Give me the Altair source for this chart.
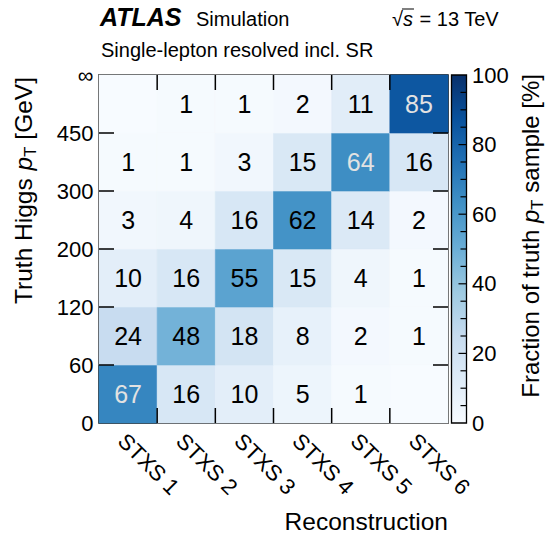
import json
import altair as alt
import pandas as pd

FONT = "Liberation Sans"

# ---------------- data ----------------
reco_labels = ["STXS 1", "STXS 2", "STXS 3", "STXS 4", "STXS 5", "STXS 6"]
truth_edges = ["0", "60", "120", "200", "300", "450", "∞"]
# percentages, one list per truth pT bin (bottom to top), columns STXS 1..6
row_0_60 = [67, 16, 10, 5, 1, None]
row_60_120 = [24, 48, 18, 8, 2, 1]
row_120_200 = [10, 16, 55, 15, 4, 1]
row_200_300 = [3, 4, 16, 62, 14, 2]
row_300_450 = [1, 1, 3, 15, 64, 16]
row_450_inf = [None, 1, 1, 2, 11, 85]
rows = [row_0_60, row_60_120, row_120_200, row_200_300, row_300_450, row_450_inf]

cbar_major = [20, 40, 60, 80]
cbar_minor = [5, 10, 15, 25, 30, 35, 45, 50, 55, 65, 70, 75, 85, 90, 95]
cbar_labels = [0, 20, 40, 60, 80, 100]
inner_edges = [1, 2, 3, 4, 5]

blues = ["#f7fbff", "#deebf7", "#c6dbef", "#9ecae1", "#6baed6",
         "#4292c6", "#2171b5", "#08519c", "#08306b"]
blue_stops = [0, 12.5, 25, 37.5, 50, 62.5, 75, 87.5, 100]

recs = []
for r, row in enumerate(rows):
    for c, v in enumerate(row):
        recs.append({
            "c0": c, "c1": c + 1, "cm": c + 0.5,
            "r0": r, "r1": r + 1, "rm": r + 0.5,
            "val": v if v is not None else 0,
            "label": str(v) if v is not None else "",
            "tc": "#e2e2e2" if (v is not None and v > 63) else "black",
        })
df = pd.DataFrame(recs)
edges_df = pd.DataFrame({"b": inner_edges})
one = pd.DataFrame({"k": [0]})

W, H = 349, 348

cscale = alt.Scale(domain=blue_stops, range=blues, interpolate="rgb")
xscale = alt.Scale(domain=[0, 6], nice=False, zero=False)
yscale = alt.Scale(domain=[0, 6], nice=False, zero=False)

xaxis = alt.Axis(values=[0.5, 1.5, 2.5, 3.5, 4.5, 5.5],
                 labelExpr=json.dumps(reco_labels, ensure_ascii=False) + "[floor(datum.value)]",
                 labelAngle=45, labelAlign="left", labelBaseline="top",
                 labelPadding=7, labelFontSize=22, ticks=False, tickSize=0,
                 domain=False, grid=False, title=None, labelFlush=False,
                 labelOverlap=False)
yaxis = alt.Axis(values=[0, 1, 2, 3, 4, 5, 6],
                 labelExpr=json.dumps(truth_edges, ensure_ascii=False) + "[datum.value]",
                 labelPadding=6, labelFontSize=22, ticks=False, tickSize=0,
                 domain=False, grid=False, title=None, labelFlush=False,
                 labelOverlap=False, labelBaseline="middle")

heat = alt.Chart(df).mark_rect(strokeWidth=0.6).encode(
    x=alt.X("c0:Q", scale=xscale, axis=xaxis),
    x2="c1:Q",
    y=alt.Y("r0:Q", scale=yscale, axis=yaxis),
    y2="r1:Q",
    color=alt.Color("val:Q", scale=cscale, legend=None),
    stroke=alt.Stroke("val:Q", scale=cscale, legend=None),
)
txt = alt.Chart(df).mark_text(font=FONT, fontSize=25, align="center",
                              baseline="middle", dy=1).encode(
    x=alt.X("cm:Q", scale=xscale, axis=xaxis),
    y=alt.Y("rm:Q", scale=yscale, axis=yaxis),
    text="label:N",
    color=alt.Color("tc:N", scale=None),
)
TL = 15
rule_kw = dict(color="black", strokeWidth=1.5)
tick_b = alt.Chart(edges_df).mark_rule(**rule_kw).encode(
    x=alt.X("b:Q", scale=xscale, axis=xaxis), y=alt.value(H), y2=alt.value(H - TL))
tick_t = alt.Chart(edges_df).mark_rule(**rule_kw).encode(
    x=alt.X("b:Q", scale=xscale, axis=xaxis), y=alt.value(0), y2=alt.value(TL))
tick_l = alt.Chart(edges_df).mark_rule(**rule_kw).encode(
    y=alt.Y("b:Q", scale=yscale, axis=yaxis), x=alt.value(0), x2=alt.value(TL))
tick_r = alt.Chart(edges_df).mark_rule(**rule_kw).encode(
    y=alt.Y("b:Q", scale=yscale, axis=yaxis), x=alt.value(W - TL), x2=alt.value(W))

main = alt.layer(heat, txt, tick_b, tick_t, tick_l, tick_r)

# ---------------- colour bar ----------------
CB0, CB1 = 352.5, 367.5
grad = alt.LinearGradient(
    gradient="linear", x1=0, x2=0, y1=1, y2=0,
    stops=[alt.GradientStop(offset=s / 100, color=col) for s, col in zip(blue_stops, blues)])
cb_rect = alt.Chart(one).mark_rect(fill=grad, stroke="black", strokeWidth=1.3).encode(
    x=alt.value(CB0), x2=alt.value(CB1), y=alt.value(0), y2=alt.value(H))
cbscale = alt.Scale(domain=[0, 100], nice=False, zero=False)
cbaxis = alt.Axis(orient="right", offset=CB1 - W, values=cbar_labels, ticks=False,
                  tickSize=0, domain=False, grid=False, title=None, labelPadding=5,
                  labelFontSize=22, labelFlush=False, labelOverlap=False,
                  labelBaseline="middle")
cb_major = alt.Chart(pd.DataFrame({"v": cbar_major})).mark_rule(color="black", strokeWidth=1.2).encode(
    y=alt.Y("v:Q", scale=cbscale, axis=cbaxis), x=alt.value(CB1 - 8), x2=alt.value(CB1))
cb_minor = alt.Chart(pd.DataFrame({"v": cbar_minor})).mark_rule(color="black", strokeWidth=1.2).encode(
    y=alt.Y("v:Q", scale=cbscale, axis=cbaxis), x=alt.value(CB1 - 6), x2=alt.value(CB1))
cbar = alt.layer(cb_rect, cb_major, cb_minor)

# ---------------- text annotations ----------------
CW = {' ': 278, 'T': 611, 'r': 333, 'u': 556, 't': 278, 'h': 556, 'H': 722, 'i': 222,
      'g': 556, 's': 500, 'p': 556, '[': 278, 'G': 778, 'e': 556, 'V': 667, ']': 278,
      'F': 611, 'a': 556, 'c': 500, 'o': 556, 'n': 556, 'f': 278, 'm': 833, 'l': 222,
      '%': 889, '=': 584, '1': 556, '3': 556, '√': 549}


def tw(s, size):
    return sum(CW.get(ch, 556) for ch in s) / 1000 * size


def text_at(s, x, y, size, angle=0, dx=0, dy=0, weight="normal", style="normal", align="left"):
    # leading blanks are collapsed by SVG, so turn them into an offset
    stripped = s.lstrip(" ")
    dx = dx + tw(s[: len(s) - len(stripped)], size)
    return alt.Chart(one).mark_text(
        text=stripped, font=FONT, fontSize=size, fontWeight=weight, fontStyle=style,
        align=align, baseline="alphabetic", angle=angle, dx=dx, dy=dy, color="black",
    ).encode(x=alt.value(x), y=alt.value(y))


def pt_title(pre, post, x, y_end, size):
    sub = size * 0.7
    parts = [(pre, size, "normal", 0), ("p", size, "italic", 0),
             ("T", sub, "normal", size * 0.17), (post, size, "normal", 0)]
    total = sum(tw(s, sz) for s, sz, _, _ in parts)
    y0 = y_end + total
    layers, off = [], 0.0
    for s, sz, st, dyy in parts:
        layers.append(text_at(s, x, y0, sz, angle=270, dx=off, dy=dyy, style=st))
        off += tw(s, sz)
    return layers


titles = []
titles += pt_title("Truth Higgs ", " [GeV]", -67, 2, 24.5)
titles += pt_title("Fraction of truth ", " sample [%]", 440, -1, 24)
titles.append(text_at("Reconstruction", W, 455, 24.5, align="right"))
titles.append(text_at("ATLAS", 1, -49, 25, weight="bold", style="italic"))
titles.append(text_at("Simulation", 97, -49, 20))
titles.append(text_at("Single-lepton resolved incl. SR", 2, -18.5, 20))
sx = 293
titles.append(text_at("√", sx, -49, 20))
titles.append(text_at("s", sx + tw("√", 20), -49, 20, style="italic"))
titles.append(text_at(" = 13 TeV", sx + tw("√s", 20) + 1, -49, 20))
titles.append(alt.Chart(one).mark_rule(color="black", strokeWidth=1).encode(
    x=alt.value(sx + tw("√", 20) - 1), x2=alt.value(sx + tw("√s", 20) + 1),
    y=alt.value(-66), y2=alt.value(-66)))

chart = alt.layer(main, cbar, *titles).resolve_scale(y="independent").properties(
    width=W, height=H,
    padding={"left": 99, "top": 75, "right": 551 - 99 - W, "bottom": 536 - 75 - H},
    autosize=alt.AutoSizeParams(type="none"),
).configure_view(stroke="black", strokeWidth=1.5).configure_axis(
    labelFont=FONT, labelColor="black")

chart.save("out.html", embed_options={"renderer": "svg", "actions": False})
